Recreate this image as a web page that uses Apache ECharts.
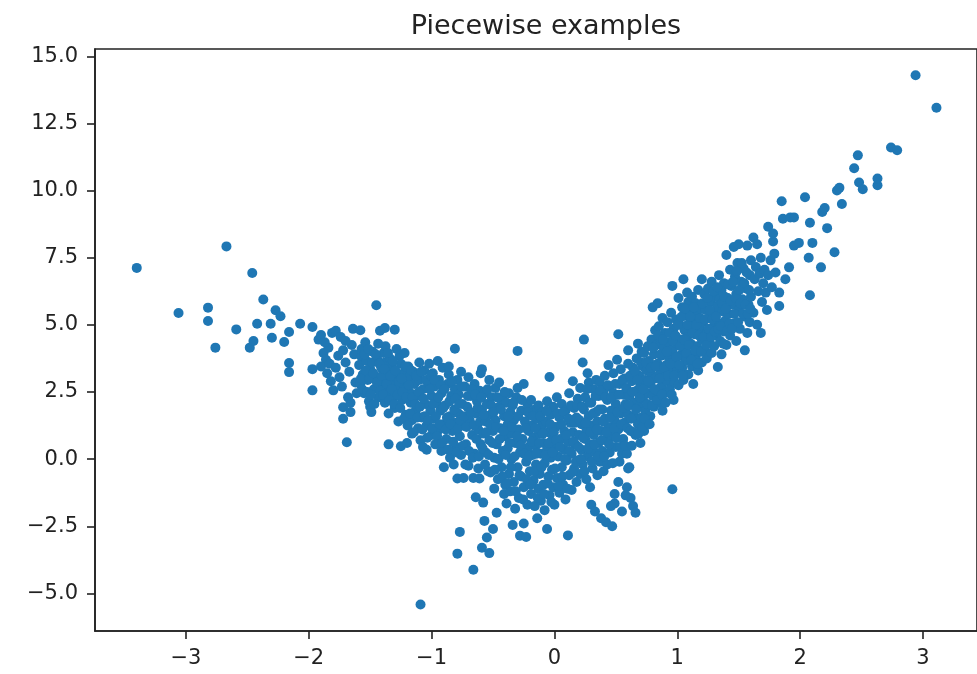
<!DOCTYPE html>
<html>
<head>
<meta charset="utf-8">
<script src="https://cdn.jsdelivr.net/npm/echarts@6/dist/echarts.min.js"></script>
<style>
  html, body { margin: 0; padding: 0; background: #fff; }
  #chart { width: 977px; height: 674px; }
</style>
</head>
<body>
<div id="chart"></div>
<script>
// tick labels
const xTicks = [-3, -2, -1, 0, 1, 2, 3];
const yTicks = [-5, -2.5, 0, 2.5, 5, 7.5, 10, 12.5, 15];

// points, grouped by x range
const farLeft = [
  [-3.40, 7.12], [-3.06, 5.44], [-2.82, 5.64], [-2.82, 5.14], [-2.76, 4.15], [-2.67, 7.92],
  [-2.59, 4.83], [-2.48, 4.15], [-2.45, 4.40], [-2.46, 6.93], [-2.42, 5.04], [-2.37, 5.94],
  [-2.31, 5.04], [-2.30, 4.52], [-2.27, 5.54], [-2.23, 5.32], [-2.20, 4.36], [-2.16, 4.73],
  [-2.16, 3.58], [-2.16, 3.24], [-2.07, 5.04],
  [-1.97, 4.92], [-1.97, 3.35], [-1.97, 2.56], [-1.92, 4.45], [-1.90, 4.62], [-1.88, 3.95],
  [-1.86, 3.70], [-1.90, 3.45], [-1.84, 4.15], [-1.85, 3.20], [-1.82, 2.90], [-1.80, 2.56],
  [-1.83, 3.55], [-1.81, 4.70], [-1.87, 4.35],
];

const leftArm = [
  [-1.78, 4.78], [-1.74, 4.55], [-1.76, 3.85], [-1.72, 4.05], [-1.78, 3.40], [-1.75, 3.05],
  [-1.73, 2.70], [-1.70, 3.60], [-1.72, 1.93], [-1.72, 1.50], [-1.68, 2.30], [-1.69, 0.63],
  [-1.66, 1.75], [-1.67, 3.25], [-1.64, 4.85], [-1.65, 4.25], [-1.62, 2.85], [-1.63, 3.90],
  [-1.61, 2.45], [-1.66, 2.10], [-1.70, 4.40],
  [-1.58, 4.80], [-1.57, 4.10], [-1.57, 3.80], [-1.59, 3.50], [-1.56, 3.15], [-1.58, 2.80],
  [-1.55, 2.45], [-1.53, 3.65], [-1.52, 2.95], [-1.51, 2.15], [-1.50, 3.35], [-1.49, 1.75],
  [-1.48, 4.00], [-1.47, 2.60], [-1.46, 3.05], [-1.45, 5.73], [-1.44, 3.70], [-1.43, 2.30],
  [-1.42, 4.78], [-1.41, 3.40], [-1.40, 2.75], [-1.54, 4.35], [-1.50, 1.95],
  [-1.38, 4.88], [-1.39, 3.95], [-1.38, 3.60], [-1.37, 3.20], [-1.39, 2.90], [-1.36, 2.50],
  [-1.38, 2.10], [-1.35, 1.70], [-1.35, 0.55], [-1.34, 3.75], [-1.33, 2.85], [-1.32, 3.40],
  [-1.31, 2.30], [-1.30, 4.82], [-1.30, 1.90], [-1.29, 3.05], [-1.28, 2.65], [-1.27, 1.40],
  [-1.26, 3.85], [-1.25, 3.55], [-1.25, 0.48], [-1.24, 2.20], [-1.23, 3.20], [-1.22, 2.75],
  [-1.21, 1.65], [-1.20, 0.60], [-1.22, 3.95],
  [-1.19, 3.45], [-1.18, 3.05], [-1.18, 2.50], [-1.17, 2.10], [-1.16, 1.45], [-1.16, 0.95],
  [-1.15, 3.25], [-1.14, 2.80], [-1.13, 1.80], [-1.12, 2.35], [-1.11, 1.15], [-1.10, 3.60],
  [-1.10, 2.95], [-1.09, 0.70], [-1.08, 1.55], [-1.07, 2.60], [-1.06, 3.30], [-1.05, 2.05],
  [-1.04, 0.35], [-1.04, 1.25], [-1.03, 2.85], [-1.02, 3.55], [-1.01, 1.80], [-1.00, 0.90],
  [-1.00, 2.35], [-1.07, 0.45], [-1.09, -5.41],
  [-0.99, 3.20], [-0.98, 2.70], [-0.98, 1.50], [-0.97, 0.55], [-0.96, 2.10], [-0.95, 3.65],
  [-0.95, 1.05], [-0.94, 2.95], [-0.93, 1.80], [-0.92, 0.30], [-0.92, 2.45], [-0.91, 3.40],
  [-0.90, -0.30], [-0.90, 1.30], [-0.89, 2.00], [-0.88, 0.75], [-0.87, 2.80], [-0.86, 3.15],
  [-0.85, 1.60], [-0.85, 0.05], [-0.84, 2.35], [-0.83, 1.05], [-0.82, -0.20], [-0.81, 4.11],
  [-0.81, 2.60], [-0.80, 1.35], [-0.80, 0.45], [-0.86, 3.45],
  [-0.79, 2.95], [-0.79, -0.72], [-0.78, 2.40], [-0.78, 1.70], [-0.77, 0.85], [-0.77, -2.71],
  [-0.79, -3.52], [-0.76, 3.25], [-0.76, 0.15], [-0.75, 2.05], [-0.74, -0.70], [-0.74, 1.25],
  [-0.73, 2.70], [-0.72, 0.55], [-0.71, 1.95], [-0.70, -0.25], [-0.70, 3.05], [-0.69, 1.45],
  [-0.68, 2.35], [-0.67, 0.90], [-0.66, -0.70], [-0.66, -4.12], [-0.65, 2.80], [-0.65, 0.20],
  [-0.64, -1.42], [-0.64, 1.70], [-0.63, 2.15], [-0.62, -0.35], [-0.62, 1.10], [-0.61, -0.72],
  [-0.61, 2.55], [-0.60, 0.55], [-0.60, 3.20],
];

const leftCore = [
  [-1.575, 3.00], [-1.565, 2.60], [-1.545, 3.90], [-1.535, 3.30], [-1.525, 2.50], [-1.515, 4.10],
  [-1.505, 3.00], [-1.495, 2.40], [-1.485, 3.60], [-1.475, 3.20], [-1.465, 2.05], [-1.455, 3.90],
  [-1.445, 2.85], [-1.435, 4.30], [-1.425, 3.55], [-1.415, 2.55], [-1.405, 3.10], [-1.395, 2.40],
  [-1.385, 3.35], [-1.375, 4.20], [-1.365, 2.80], [-1.355, 3.95], [-1.345, 2.20], [-1.335, 3.10],
  [-1.325, 2.60], [-1.315, 3.65], [-1.305, 2.05], [-1.295, 3.30], [-1.285, 4.10], [-1.275, 2.40],
  [-1.265, 2.90], [-1.255, 1.90], [-1.245, 3.00], [-1.235, 2.50], [-1.225, 1.50], [-1.215, 3.45],
  [-1.205, 2.30],
  [-1.195, 1.25], [-1.185, 2.75], [-1.175, 1.70], [-1.165, 3.30], [-1.155, 2.30], [-1.145, 1.00],
  [-1.135, 2.05], [-1.125, 3.10], [-1.115, 1.55], [-1.105, 2.50], [-1.095, 1.95], [-1.085, 3.25],
  [-1.075, 1.10], [-1.065, 2.25], [-1.055, 1.60], [-1.045, 2.95], [-1.035, 0.80], [-1.025, 1.45],
  [-1.015, 2.60], [-1.005, 3.10],
  [-0.995, 1.15], [-0.985, 2.05], [-0.975, 2.95], [-0.965, 1.60], [-0.955, 0.85], [-0.945, 2.30],
  [-0.935, 1.30], [-0.925, 2.75], [-0.915, 0.60], [-0.905, 1.90], [-0.895, 2.60], [-0.885, 1.10],
  [-0.875, 1.55], [-0.865, 0.35], [-0.855, 2.15], [-0.845, 1.30], [-0.835, 2.90], [-0.825, 0.65],
  [-0.815, 1.85], [-0.805, 2.25],
  [-0.795, 0.25], [-0.785, 1.15], [-0.775, 2.05], [-0.765, 1.45], [-0.755, 2.70], [-0.745, 0.50],
  [-0.735, 1.60], [-0.725, -0.20], [-0.715, 1.20], [-0.705, 2.35], [-0.695, 0.30], [-0.685, 1.75],
  [-0.675, 2.60], [-0.665, 0.05], [-0.655, 1.25], [-0.645, 2.40], [-0.635, 0.75], [-0.625, 1.90],
  [-0.615, 0.10], [-0.605, 1.40],
];

const valley = [
  [-0.59, 3.35], [-0.59, -3.30], [-0.59, 1.85], [-0.58, -1.62], [-0.58, 0.95], [-0.57, -2.30],
  [-0.57, 2.45], [-0.56, 0.25], [-0.56, 1.40], [-0.55, -2.92], [-0.55, 2.05], [-0.54, -0.45],
  [-0.53, -3.50], [-0.53, 2.95], [-0.53, 0.70], [-0.52, 1.65], [-0.52, -0.50], [-0.51, 2.30],
  [-0.50, -2.60], [-0.50, 1.05], [-0.49, -1.10], [-0.49, 0.05], [-0.48, 2.65], [-0.48, 1.45],
  [-0.47, -2.00], [-0.47, 0.55], [-0.46, -0.75], [-0.45, 1.95], [-0.45, 2.85], [-0.44, 1.15],
  [-0.43, -0.30], [-0.42, 0.30], [-0.42, 2.25], [-0.41, -1.30], [-0.41, 1.60], [-0.40, 0.85],
  [-0.40, -0.95],
  [-0.39, 2.10], [-0.39, -1.65], [-0.38, 1.30], [-0.38, 0.40], [-0.37, -0.55], [-0.37, 2.45],
  [-0.36, 1.75], [-0.36, -1.20], [-0.35, 0.95], [-0.35, 0.00], [-0.34, -2.45], [-0.34, 2.00],
  [-0.33, -0.85], [-0.33, 1.45], [-0.32, 0.60], [-0.32, -1.85], [-0.31, 2.30], [-0.30, 4.03],
  [-0.30, -0.30], [-0.30, 2.65], [-0.29, 1.10], [-0.29, -1.45], [-0.28, 0.25], [-0.28, -2.85],
  [-0.27, 1.80], [-0.27, -0.65], [-0.26, 0.75], [-0.25, 2.80], [-0.25, -1.05], [-0.25, -2.40],
  [-0.24, 1.40], [-0.23, -0.10], [-0.23, -2.90], [-0.22, 2.05], [-0.22, -1.70], [-0.21, 0.45],
  [-0.21, 1.05], [-0.20, -0.45], [-0.20, 1.65],
  [-0.19, -1.30], [-0.19, 2.20], [-0.18, 0.15], [-0.18, 1.25], [-0.17, -0.80], [-0.17, 0.80],
  [-0.16, 1.85], [-0.16, -1.75], [-0.15, -0.20], [-0.15, 0.50], [-0.14, -2.20], [-0.14, 1.50],
  [-0.13, -1.10], [-0.13, 2.00], [-0.12, 0.95], [-0.12, -0.55], [-0.11, 0.20], [-0.11, -1.55],
  [-0.10, 1.25], [-0.10, 1.75], [-0.09, -0.95], [-0.09, 0.60], [-0.08, -0.15], [-0.08, -1.90],
  [-0.07, 1.40], [-0.06, -2.60], [-0.06, 0.35], [-0.06, 2.15], [-0.05, -0.65], [-0.05, 1.00],
  [-0.04, 3.06], [-0.04, -1.35], [-0.03, 0.05], [-0.03, 1.65], [-0.02, -0.40], [-0.02, 0.70],
  [-0.01, -1.05], [-0.01, 1.95], [0.00, 0.40], [0.00, -1.70],
  [0.01, 1.20], [0.02, -0.70], [0.02, 2.30], [0.03, 0.10], [0.04, -1.25], [0.04, 1.55],
  [0.05, 0.75], [0.06, -0.30], [0.06, 2.05], [0.07, -0.95], [0.08, 1.05], [0.08, 0.35],
  [0.09, -1.50], [0.09, 1.80], [0.10, -0.05], [0.11, -2.84], [0.11, 0.65], [0.12, 2.45],
  [0.12, -0.60], [0.13, 1.35], [0.14, -1.15], [0.14, 0.20], [0.15, 2.90], [0.15, 1.00],
  [0.16, -0.35], [0.16, 1.90], [0.17, 0.55], [0.18, -0.85], [0.18, 1.55], [0.19, 2.25],
  [0.19, -0.05], [0.20, 0.90],
  [0.21, -0.55], [0.21, 2.65], [0.22, 1.30], [0.22, 0.35], [0.23, 3.60], [0.23, -0.20],
  [0.24, 4.45], [0.24, 1.85], [0.25, 0.75], [0.25, 2.30], [0.26, -0.75], [0.26, 1.05],
  [0.27, 3.20], [0.27, 0.10], [0.28, 1.60], [0.28, 2.85], [0.29, -1.05], [0.29, 0.55],
  [0.30, -1.70], [0.30, 2.10], [0.31, 1.25], [0.31, -0.35], [0.32, 2.60], [0.32, 0.90],
  [0.33, -1.95], [0.33, 0.25], [0.34, 1.75], [0.34, 2.95], [0.35, -0.60], [0.35, 1.40],
  [0.36, 0.60], [0.36, 2.35], [0.37, -0.10], [0.37, 2.85], [0.38, 1.05], [0.38, -2.20],
  [0.39, 1.85], [0.39, 0.30], [0.40, 2.55], [0.40, -0.45],
  [0.41, 1.50], [0.41, 3.10], [0.42, 0.70], [0.42, -2.35], [0.43, 2.20], [0.43, -0.20],
  [0.44, 1.20], [0.44, 3.50], [0.45, 0.25], [0.45, 2.70], [0.46, 1.80], [0.46, -1.75],
  [0.47, -2.50], [0.47, 0.85], [0.48, 2.45], [0.48, 3.20], [0.49, -1.30], [0.49, -1.65],
  [0.49, 1.45], [0.50, 0.45], [0.50, 2.05], [0.51, 3.70], [0.52, 4.65], [0.52, -0.85],
  [0.52, 1.10], [0.53, 2.80], [0.53, -0.10], [0.54, 1.70], [0.54, 3.35], [0.55, 0.20],
  [0.55, -1.95], [0.56, 2.40], [0.56, 0.75], [0.57, 1.35], [0.57, 3.00], [0.58, -1.35],
  [0.58, 2.05], [0.59, 0.20], [0.59, -1.05], [0.60, -0.35], [0.60, 1.65], [0.60, 3.55],
  [0.60, 4.05],
];

const valleyCore = [
  [-0.595, 2.30], [-0.585, 0.40], [-0.575, 1.65], [-0.565, -0.20], [-0.555, 1.00], [-0.545, 2.60],
  [-0.535, 0.15], [-0.525, 1.30], [-0.515, 2.00], [-0.505, 0.60], [-0.495, 1.75], [-0.485, -0.40],
  [-0.475, 1.20], [-0.465, 2.30], [-0.455, 0.00], [-0.445, 0.75], [-0.435, 1.85], [-0.425, -0.65],
  [-0.415, 1.05], [-0.405, 2.50],
  [-0.395, 0.15], [-0.385, -0.90], [-0.375, 1.60], [-0.365, 0.60], [-0.355, -0.30], [-0.345, 1.20],
  [-0.335, 2.10], [-0.325, 0.10], [-0.315, -1.20], [-0.305, 0.85], [-0.295, 1.60], [-0.285, -0.60],
  [-0.275, 0.50], [-0.265, 2.20], [-0.255, -1.50], [-0.245, 0.20], [-0.235, 1.15], [-0.225, -0.75],
  [-0.215, 1.75], [-0.205, 0.10],
  [-0.195, -0.95], [-0.185, 0.65], [-0.175, 1.60], [-0.165, -0.45], [-0.155, 1.15], [-0.145, 0.20],
  [-0.135, -1.45], [-0.125, 0.60], [-0.115, 1.60], [-0.105, -0.30], [-0.095, 0.95], [-0.085, -1.30],
  [-0.075, 0.15], [-0.065, 1.80], [-0.055, -0.90], [-0.045, 0.60], [-0.035, 1.30], [-0.025, -1.60],
  [-0.015, 0.25], [-0.005, 1.00],
  [0.005, -0.35], [0.015, 0.70], [0.025, 1.70], [0.035, -1.00], [0.045, 0.45], [0.055, 1.30],
  [0.065, -0.65], [0.075, 1.75], [0.085, 0.00], [0.095, 0.90], [0.105, -1.10], [0.115, 1.50],
  [0.125, 0.30], [0.135, 2.00], [0.145, -0.50], [0.155, 0.65], [0.165, 1.35], [0.175, -0.10],
  [0.185, 2.00], [0.195, 0.45],
  [0.205, 1.45], [0.215, 0.00], [0.225, 1.95], [0.235, 0.80], [0.245, -0.45], [0.255, 1.35],
  [0.265, 2.60], [0.275, 0.40], [0.285, 2.10], [0.295, 1.00], [0.305, -0.10], [0.315, 1.70],
  [0.325, 0.55], [0.335, 2.35], [0.345, 1.10], [0.355, 0.10], [0.365, 1.85], [0.375, 2.55],
  [0.385, 0.70], [0.395, 1.40],
  [0.405, 0.10], [0.415, 2.30], [0.425, 1.00], [0.435, 2.75], [0.445, 0.55], [0.455, 1.55],
  [0.465, 2.30], [0.475, -0.15], [0.485, 1.15], [0.495, 2.80], [0.505, 0.80], [0.515, 1.75],
  [0.525, 2.40], [0.535, 0.45], [0.545, 1.30], [0.555, 2.95], [0.565, 1.90], [0.575, 0.50],
  [0.585, 2.65], [0.595, 1.15],
];

const rightArm = [
  [0.61, 2.35], [0.61, -0.30], [0.62, 1.05], [0.62, -1.45], [0.63, 2.90], [0.63, 0.50],
  [0.64, -1.75], [0.64, 3.40], [0.65, 1.60], [0.65, 2.10], [0.66, -2.00], [0.66, 0.90],
  [0.67, 3.75], [0.67, 2.55], [0.68, 4.30], [0.68, 1.30], [0.69, 3.10], [0.69, 1.95],
  [0.70, 0.60], [0.70, 2.75], [0.71, 4.00], [0.71, 1.55], [0.72, 3.45], [0.72, 2.25],
  [0.73, 1.05], [0.73, 3.95], [0.74, 2.95], [0.74, 1.80], [0.75, 1.35], [0.75, 3.30],
  [0.76, 2.45], [0.76, 4.20], [0.77, 2.00], [0.77, 3.65], [0.78, 2.80], [0.78, 1.60],
  [0.79, 4.45], [0.79, 3.15], [0.80, 5.65], [0.80, 2.35],
  [0.81, 3.90], [0.81, 1.95], [0.82, 4.80], [0.82, 3.00], [0.83, 2.55], [0.83, 4.25],
  [0.84, 5.80], [0.84, 3.55], [0.85, 2.10], [0.85, 4.95], [0.86, 3.20], [0.86, 4.50],
  [0.87, 2.70], [0.87, 3.85], [0.88, 1.80], [0.88, 5.25], [0.89, 4.15], [0.89, 3.05],
  [0.90, 2.45], [0.90, 4.70], [0.91, 3.50], [0.92, 5.10], [0.92, 2.90], [0.93, 4.35],
  [0.93, 3.80], [0.94, 2.60], [0.95, 5.45], [0.95, 3.25], [0.96, 6.45], [0.96, -1.12],
  [0.96, 4.05], [0.97, 2.20], [0.97, 4.85], [0.98, 3.55], [0.98, 2.85], [0.99, 5.20],
  [1.00, 4.30], [1.00, 3.30],
  [1.01, 6.00], [1.01, 2.75], [1.02, 3.85], [1.02, 5.00], [1.03, 4.45], [1.04, 3.40],
  [1.04, 5.65], [1.05, 6.70], [1.05, 2.95], [1.06, 4.80], [1.06, 4.10], [1.07, 5.35],
  [1.07, 3.65], [1.08, 6.20], [1.08, 4.55], [1.09, 3.15], [1.09, 5.85], [1.10, 4.95],
  [1.10, 3.90], [1.11, 5.50], [1.11, 4.30], [1.12, 3.45], [1.12, 6.05], [1.13, 2.80],
  [1.13, 5.15], [1.14, 4.65], [1.15, 3.75], [1.15, 5.80], [1.16, 4.20], [1.16, 5.35],
  [1.17, 3.30], [1.17, 6.30], [1.18, 4.85], [1.18, 4.00], [1.19, 5.60], [1.20, 6.70],
  [1.20, 3.60], [1.20, 4.45],
  [1.21, 5.10], [1.22, 6.15], [1.22, 4.05], [1.23, 5.55], [1.24, 3.75], [1.24, 4.70],
  [1.25, 6.35], [1.26, 5.25], [1.26, 4.35], [1.27, 5.85], [1.28, 3.95], [1.28, 6.60],
  [1.29, 4.90], [1.30, 5.45], [1.30, 4.20], [1.31, 6.05], [1.32, 4.60], [1.33, 3.43],
  [1.33, 5.70], [1.34, 6.85], [1.34, 5.05], [1.35, 4.40], [1.36, 6.30], [1.36, 3.90],
  [1.37, 5.50], [1.38, 4.75], [1.38, 6.55], [1.39, 5.15], [1.40, 7.60], [1.40, 4.25],
  [1.41, 6.00], [1.42, 5.40], [1.43, 7.05], [1.43, 4.60], [1.44, 6.45], [1.45, 5.75],
  [1.46, 7.90], [1.46, 5.05], [1.47, 6.80], [1.48, 4.40], [1.48, 6.15], [1.49, 7.30],
  [1.50, 5.55], [1.50, 8.00], [1.51, 4.85], [1.52, 6.60], [1.53, 5.95], [1.54, 7.10],
  [1.55, 4.05], [1.55, 5.30], [1.56, 6.35], [1.57, 7.95], [1.57, 4.70], [1.58, 5.75],
  [1.59, 6.85], [1.59, 5.10], [1.60, 7.40], [1.60, 6.05],
  [1.62, 8.25], [1.62, 5.45], [1.63, 6.70], [1.64, 7.15], [1.65, 8.00], [1.65, 5.00],
  [1.66, 6.25], [1.67, 6.90], [1.68, 7.50], [1.68, 4.70], [1.69, 5.85], [1.70, 6.55],
  [1.71, 7.05], [1.72, 6.20], [1.73, 5.55], [1.74, 8.65], [1.74, 6.85], [1.76, 7.40],
  [1.77, 6.40], [1.78, 8.10], [1.78, 8.40], [1.79, 7.65], [1.80, 6.95],
];

const rightCore = [
  [0.605, 2.00], [0.615, 3.10], [0.625, 1.50], [0.635, 2.50], [0.645, 1.00], [0.655, 3.30],
  [0.665, 1.85], [0.675, 2.95], [0.685, 0.95], [0.695, 2.30], [0.705, 3.60], [0.715, 1.20],
  [0.725, 2.60], [0.735, 1.50], [0.745, 3.60], [0.755, 2.05], [0.765, 2.90], [0.775, 1.30],
  [0.785, 3.40], [0.795, 2.00],
  [0.805, 4.15], [0.815, 2.60], [0.825, 3.45], [0.835, 2.20], [0.845, 4.60], [0.855, 3.00],
  [0.865, 3.90], [0.875, 2.40], [0.885, 4.45], [0.895, 3.40], [0.905, 2.10], [0.915, 4.00],
  [0.925, 3.10], [0.935, 4.70], [0.945, 3.55], [0.955, 2.40], [0.965, 4.40], [0.975, 3.10],
  [0.985, 4.60], [0.995, 3.80],
  [1.005, 5.00], [1.015, 3.50], [1.025, 4.20], [1.035, 5.30], [1.045, 3.10], [1.055, 4.45],
  [1.065, 5.60], [1.075, 3.95], [1.085, 5.00], [1.095, 4.25], [1.105, 5.30], [1.115, 3.70],
  [1.125, 4.70], [1.135, 5.65], [1.145, 4.05], [1.155, 5.00], [1.165, 3.55], [1.175, 4.60],
  [1.185, 5.25], [1.195, 4.00],
  [1.205, 5.80], [1.215, 4.55], [1.225, 5.20], [1.235, 4.25], [1.245, 6.00], [1.255, 4.85],
  [1.265, 5.55], [1.275, 4.55], [1.285, 5.20], [1.295, 6.25], [1.305, 4.75], [1.315, 5.30],
  [1.325, 6.40], [1.335, 4.85], [1.345, 5.95], [1.355, 4.95], [1.365, 5.80], [1.375, 4.30],
  [1.385, 6.05], [1.395, 5.60],
  [1.405, 4.80], [1.415, 6.50], [1.425, 5.05], [1.435, 5.90], [1.445, 4.85], [1.455, 6.60],
  [1.465, 5.40], [1.475, 6.00], [1.485, 7.00], [1.495, 5.10], [1.505, 6.30], [1.515, 5.80],
  [1.525, 7.30], [1.535, 5.40], [1.545, 6.55], [1.555, 5.75], [1.565, 6.95], [1.575, 5.40],
  [1.585, 6.30], [1.595, 5.60],
];

const farRight = [
  [1.83, 5.70], [1.83, 6.20], [1.85, 9.60], [1.86, 8.95], [1.88, 6.70], [1.91, 7.14],
  [1.92, 9.00], [1.95, 7.95], [1.95, 9.00], [1.99, 8.05], [2.04, 9.75], [2.07, 7.50],
  [2.08, 6.10], [2.08, 8.80], [2.10, 8.05], [2.17, 7.14], [2.18, 9.20], [2.20, 9.35],
  [2.22, 8.60], [2.28, 7.70], [2.30, 10.00], [2.32, 10.10], [2.34, 9.50], [2.44, 10.83],
  [2.47, 11.31], [2.48, 10.30], [2.51, 10.05], [2.63, 10.20], [2.63, 10.45], [2.74, 11.60],
  [2.79, 11.50], [2.94, 14.29], [3.11, 13.08],
];

const points = farLeft.concat(leftArm, leftCore, valley, valleyCore, rightArm, rightCore, farRight);

const font = "DejaVu Sans";
const minus = (v, digits) => (v < 0 ? "\u2212" : "") + Math.abs(v).toFixed(digits);

const chart = echarts.init(document.getElementById("chart"), null, { renderer: "canvas" });

chart.setOption({
  animation: false,
  backgroundColor: "#fff",
  title: {
    text: "Piecewise examples",
    left: 541,
    top: 8,
    textAlign: "center",
    textStyle: { fontFamily: font, fontSize: 27, fontWeight: "normal", color: "#222" },
  },
  grid: {
    left: 95,
    top: 49,
    right: -10,
    bottom: 43,
    show: true,
    borderColor: "#222",
    borderWidth: 1.6,
  },
  xAxis: {
    type: "value",
    min: -3.74,
    max: 3.44,
    splitLine: { show: false },
    axisLine: { show: true, onZero: false, lineStyle: { color: "#222", width: 1.6 } },
    axisTick: { show: true, length: 8, customValues: xTicks, lineStyle: { color: "#222", width: 1.6 } },
    axisLabel: {
      customValues: xTicks,
      formatter: (v) => minus(v, 0),
      fontFamily: font,
      fontSize: 21,
      color: "#222",
      margin: 17,
    },
  },
  yAxis: {
    type: "value",
    min: -6.40,
    max: 15.27,
    splitLine: { show: false },
    axisLine: { show: true, onZero: false, lineStyle: { color: "#222", width: 1.6 } },
    axisTick: { show: true, length: 8, customValues: yTicks, lineStyle: { color: "#222", width: 1.6 } },
    axisLabel: {
      customValues: yTicks,
      formatter: (v) => minus(v, 1),
      fontFamily: font,
      fontSize: 21,
      color: "#222",
      margin: 17,
    },
  },
  series: [
    {
      type: "scatter",
      data: points,
      symbol: "circle",
      symbolSize: 10,
      itemStyle: { color: "#1f77b4", opacity: 1 },
    },
  ],
});
</script>
</body>
</html>
